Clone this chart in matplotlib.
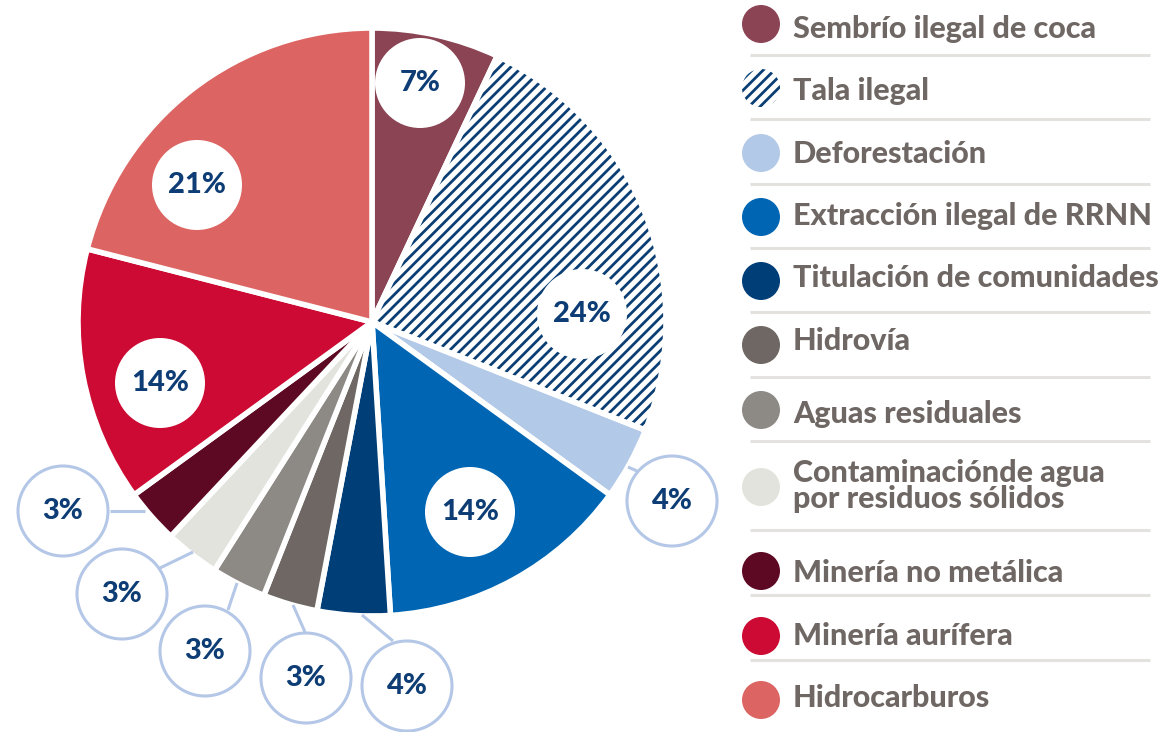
import matplotlib.pyplot as plt
from matplotlib.patches import Circle, Wedge

# ---- data ----
categories = [
    "Sembrío ilegal de coca",
    "Tala ilegal",
    "Deforestación",
    "Extracción ilegal de RRNN",
    "Titulación de comunidades",
    "Hidrovía",
    "Aguas residuales",
    "Contaminaciónde agua\npor residuos sólidos",
    "Minería no metálica",
    "Minería aurífera",
    "Hidrocarburos",
]
values = [7, 24, 4, 14, 4, 3, 3, 3, 3, 14, 21]
colors = [
    "#8B4454", "#FFFFFF", "#B3C9E8", "#0066B3", "#003E78", "#6E6763",
    "#8D8985", "#E3E3DE", "#5E0924", "#CC0A33", "#DC6563",
]

# ---- layout (pixel coords, y from top) ----
W, H = 1163, 732
CX, CY, R = 372, 322, 294
NAVY = "#0D3D74"
HATCH_NAVY = "#0B3F73"
GRAY_TXT = "#6E6764"
RING = "#B4C7E7"
SEP = "#E3E2DE"

# label circles: (x, y, inside?, line start, line end)
label_pos = [
    (420, 83, True, None, None),
    (582, 314, True, None, None),
    (672, 501, False, (628, 467), (637, 471)),
    (470, 512, True, None, None),
    (407, 686, False, (362, 615), (393, 641)),
    (306, 678, False, (293, 605), (305, 632)),
    (205, 651, False, (237, 583), (228, 610)),
    (122, 594, False, (193, 552), (160, 568)),
    (63, 511, False, (145, 511), (110, 511)),
    (160, 383, True, None, None),
    (197, 185, True, None, None),
]

legend_circle_y = [24, 88, 153, 217, 281, 345, 410, 487, 571, 636, 700]
legend_text_y = [38, 100, 163, 225, 287, 350, 423, 508, 582, 645, 707]
separator_y = [55, 119, 184, 248, 312, 377, 441, 530, 595, 660]

plt.rcParams["font.family"] = ["Lato", "DejaVu Sans"]
plt.rcParams["hatch.linewidth"] = 2.0


def fy(y):
    return H - y


fig = plt.figure(figsize=(W / 100, H / 100), dpi=100)
ax = fig.add_axes([0, 0, 1, 1])

wedges, _ = ax.pie(
    values,
    colors=colors,
    startangle=90,
    counterclock=False,
    center=(CX, fy(CY)),
    radius=R,
    wedgeprops=dict(edgecolor="white", linewidth=4),
)

# hatched "Tala ilegal" slice
tala = wedges[1]
tala.set_hatch("///")
tala.set_edgecolor(HATCH_NAVY)
tala.set_linewidth(0)
ax.add_patch(Wedge(tala.center, tala.r, tala.theta1, tala.theta2,
                   facecolor="none", edgecolor="white", linewidth=4, zorder=3))

# percentage labels
for v, (x, y, inside, p0, p1) in zip(values, label_pos):
    if inside:
        ax.add_patch(Circle((x, fy(y)), 45, facecolor="white",
                            edgecolor="none", zorder=4))
    else:
        ax.plot([p0[0], p1[0]], [fy(p0[1]), fy(p1[1])], color=RING,
                linewidth=2.2, zorder=4, solid_capstyle="butt")
        ax.add_patch(Circle((x, fy(y)), 45, facecolor="white",
                            edgecolor=RING, linewidth=2.2, zorder=4))
    ax.text(x, fy(y), f"{v}%", ha="center", va="center", fontsize=21,
            fontweight="black", color=NAVY, zorder=5)

# legend
for i, (cat, col) in enumerate(zip(categories, colors)):
    cy = fy(legend_circle_y[i])
    if i == 1:
        ax.add_patch(Circle((761, cy), 19, facecolor="white",
                            edgecolor=HATCH_NAVY, linewidth=0, hatch="///"))
    else:
        ax.add_patch(Circle((761, cy), 19, facecolor=col, edgecolor="none"))
    ax.text(793, fy(legend_text_y[i]), cat, ha="left", va="baseline",
            fontsize=22, fontweight="black", color=GRAY_TXT,
            linespacing=0.9)

for sy in separator_y:
    ax.plot([750, 1150], [fy(sy), fy(sy)], color=SEP, linewidth=2.2,
            solid_capstyle="butt")

ax.set_xlim(0, W)
ax.set_ylim(0, H)
ax.set_aspect("equal")
ax.axis("off")

fig.savefig("out.png", dpi=100, facecolor="white")
